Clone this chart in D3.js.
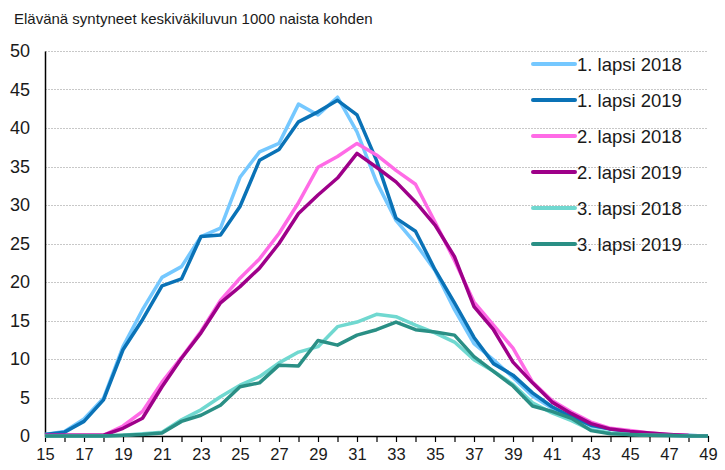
<!DOCTYPE html>
<html>
<head>
<meta charset="utf-8">
<script src="https://cdn.jsdelivr.net/npm/d3@7"></script>
<style>
  body { margin: 0; background: #fff; }
  svg { display: block; font-family: "Liberation Sans", Arial, sans-serif; }
</style>
</head>
<body>
<div id="chart"></div>
<script>
// ages 15..49
const ages = d3.range(15, 50);

const first2018 = [0.2, 0.6, 2.2, 4.9, 11.6, 16.4, 20.6, 22, 25.9, 27, 33.6, 36.9, 38, 43.1, 41.7, 44, 39.5, 33, 28, 25, 21.5, 16.4, 12, 9.9, 7.6, 5.2, 3.6, 2.5, 1.3, 0.9, 0.5, 0.3, 0.1, 0.05, 0];
const first2019 = [0.2, 0.5, 1.9, 4.7, 11.2, 15.1, 19.5, 20.4, 25.9, 26.1, 29.8, 35.8, 37.2, 40.8, 42.1, 43.6, 41.7, 35.8, 28.3, 26.6, 21.6, 17.3, 12.8, 9.4, 7.9, 5.6, 3.8, 2.5, 1.4, 0.9, 0.5, 0.3, 0.1, 0.05, 0];
const second2018 = [0.1, 0.1, 0.1, 0.1, 1.3, 3.2, 7, 10.2, 13.6, 17.6, 20.5, 23, 26.3, 30.3, 34.9, 36.3, 38, 36.5, 34.5, 32.7, 27.8, 22.8, 17.4, 14.4, 11.4, 7, 4.6, 3.1, 1.8, 1.0, 0.7, 0.4, 0.2, 0.05, 0];
const second2019 = [0.1, 0.1, 0.1, 0.1, 1.0, 2.3, 6.4, 10.1, 13.4, 17.3, 19.4, 21.8, 25, 28.9, 31.3, 33.5, 36.7, 34.9, 33, 30.4, 27.4, 23.3, 16.8, 13.8, 9.6, 6.9, 4.4, 2.9, 1.6, 0.9, 0.6, 0.4, 0.2, 0.05, 0];
const third2018 = [0, 0, 0, 0, 0.1, 0.3, 0.5, 2.1, 3.4, 5.1, 6.6, 7.7, 9.5, 10.9, 11.6, 14.2, 14.8, 15.8, 15.5, 14.4, 13.4, 12.2, 9.9, 8.4, 6.7, 4.3, 3.0, 2.0, 0.8, 0.4, 0.2, 0.1, 0.05, 0, 0];
const third2019 = [0, 0, 0, 0, 0.1, 0.2, 0.4, 1.9, 2.7, 4.0, 6.4, 6.9, 9.2, 9.1, 12.4, 11.8, 13.1, 13.8, 14.8, 13.8, 13.5, 13.1, 10.3, 8.4, 6.5, 3.9, 3.2, 2.3, 0.7, 0.3, 0.2, 0.1, 0.05, 0, 0];

const seriesNames = ['1. lapsi 2018', '1. lapsi 2019', '2. lapsi 2018', '2. lapsi 2019', '3. lapsi 2018', '3. lapsi 2019'];
const seriesValues = [first2018, first2019, second2018, second2019, third2018, third2019];
const seriesColors = ['#75c8ff', '#0a72b6', '#ff6be6', '#9e0089', '#70d8d0', '#2a8f85'];

const yTicks = d3.range(0, 51, 5);
const xLabels = d3.range(15, 50, 2);
const title = 'Elävänä syntyneet keskiväkiluvun 1000 naista kohden';

const width = 725, height = 470;
const margin = { top: 51, right: 17, bottom: 34, left: 45 };
const innerW = width - margin.left - margin.right;
const innerH = height - margin.top - margin.bottom;

const svg = d3.select('#chart').append('svg')
    .attr('width', width)
    .attr('height', height);

svg.append('text')
    .attr('x', 14)
    .attr('y', 24)
    .attr('font-size', 15)
    .attr('fill', '#1a1a1a')
    .text(title);

const g = svg.append('g')
    .attr('transform', 'translate(' + margin.left + ',' + margin.top + ')');

const x = d3.scaleLinear().domain([15, 49]).range([0, innerW]);
const y = d3.scaleLinear().domain([0, 50]).range([innerH, 0]);

// gridlines
g.append('g')
    .selectAll('line')
    .data(yTicks.filter(d => d > 0))
    .join('line')
    .attr('x1', 0)
    .attr('x2', innerW)
    .attr('y1', d => Math.round(y(d)) + 0.5)
    .attr('y2', d => Math.round(y(d)) + 0.5)
    .attr('stroke', '#c8c8c8')
    .attr('stroke-dasharray', '2,1');

// y axis
const yAxis = g.append('g')
    .call(d3.axisLeft(y).tickValues(yTicks).tickSize(0).tickPadding(15));
yAxis.select('.domain').attr('stroke', '#000').attr('stroke-width', 1.5);
yAxis.selectAll('text').attr('font-size', 18).attr('fill', '#1a1a1a')
    .attr('font-family', '"Liberation Sans", Arial, sans-serif');

// x axis, a tick every year, labels on odd ages
const xAxis = g.append('g')
    .attr('transform', 'translate(0,' + innerH + ')')
    .call(d3.axisBottom(x).tickValues(ages).tickSize(6).tickSizeOuter(0).tickPadding(6)
        .tickFormat(d => (xLabels.includes(d) ? d : '')));
xAxis.select('.domain').attr('stroke', '#000').attr('stroke-width', 1.5);
xAxis.selectAll('.tick line').attr('stroke', '#000').attr('stroke-width', 1.2);
xAxis.selectAll('text').attr('font-size', 16.5).attr('fill', '#1a1a1a')
    .attr('font-family', '"Liberation Sans", Arial, sans-serif');

// lines
const line = d3.line()
    .x((d, i) => x(ages[i]))
    .y(d => y(d));

g.append('g')
    .selectAll('path')
    .data(seriesValues)
    .join('path')
    .attr('d', line)
    .attr('fill', 'none')
    .attr('stroke', (d, i) => seriesColors[i])
    .attr('stroke-width', 3.5)
    .attr('stroke-linejoin', 'round');

// legend
const legend = svg.append('g')
    .attr('transform', 'translate(533,64)');

const item = legend.selectAll('g')
    .data(seriesNames)
    .join('g')
    .attr('transform', (d, i) => 'translate(0,' + (i * 36) + ')');

item.append('line')
    .attr('x1', 0)
    .attr('x2', 42)
    .attr('stroke', (d, i) => seriesColors[i])
    .attr('stroke-width', 4)
    .attr('stroke-linecap', 'round');

item.append('text')
    .attr('x', 44)
    .attr('y', 6.5)
    .attr('font-size', 18.5)
    .attr('fill', '#1a1a1a')
    .text(d => d);
</script>
</body>
</html>
